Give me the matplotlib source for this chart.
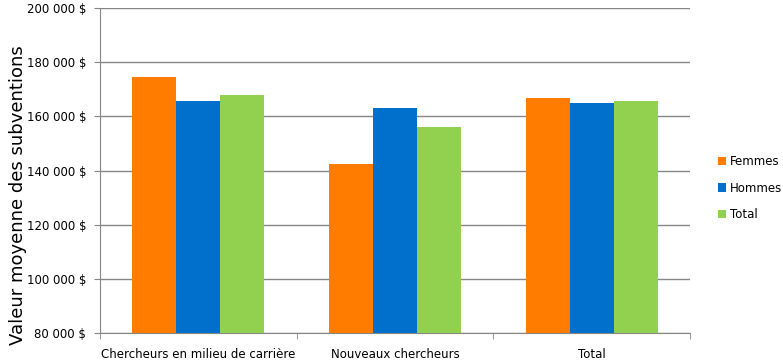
import numpy as np
import matplotlib.pyplot as plt
from matplotlib.ticker import FuncFormatter

categories = ["Chercheurs en milieu de carrière", "Nouveaux chercheurs", "Total"]
femmes = [174600, 142300, 166700]
hommes = [165600, 163000, 165100]
total = [167900, 156000, 165600]
series = ["Femmes", "Hommes", "Total"]
colors = ["#FF7C00", "#0070CC", "#92D050"]

plt.rcParams["font.family"] = "DejaVu Sans"

fig = plt.figure(figsize=(7.83, 3.62), dpi=100)
ax = fig.add_axes([100 / 783, 1 - 333 / 362, 590 / 783, 325 / 362])

x = np.arange(len(categories))
w = 0.2234
for i, (vals, name, c) in enumerate(zip([femmes, hommes, total], series, colors)):
    ax.bar(x + (i - 1) * w, vals, width=w, color=c, label=name, zorder=3)

ax.set_xlim(-0.5, 2.5)
ax.set_ylim(80000, 200000)
ax.set_yticks(np.arange(80000, 200001, 20000))
ax.yaxis.set_major_formatter(FuncFormatter(lambda v, p: f"{int(v):,} $".replace(",", " ")))
ax.grid(axis="y", color="#868686", linewidth=1, zorder=0)

ax.set_xticks(x)
ax.set_xticklabels(categories, fontsize=8.5)
ax.set_xticks([-0.5, 0.5, 1.5, 2.5], minor=True)
ax.tick_params(axis="x", which="major", length=0, pad=11)
ax.tick_params(axis="x", which="minor", length=4, color="#868686")
ax.tick_params(axis="y", length=4, color="#868686", labelsize=8.5, pad=6)

for s in ["top", "right"]:
    ax.spines[s].set_visible(False)
for s in ["left", "bottom"]:
    ax.spines[s].set_color("#868686")

ax.set_ylabel("Valeur moyenne des subventions", fontsize=13)
ax.yaxis.set_label_coords(-73 / 590, 0.425)

fig.legend(loc="center left", bbox_to_anchor=(707 / 783, 1 - 188 / 362), frameon=False,
           fontsize=8.5, handlelength=0.7, handleheight=0.7, handletextpad=0.35,
           labelspacing=1.15)

fig.savefig("out.png", dpi=100)
